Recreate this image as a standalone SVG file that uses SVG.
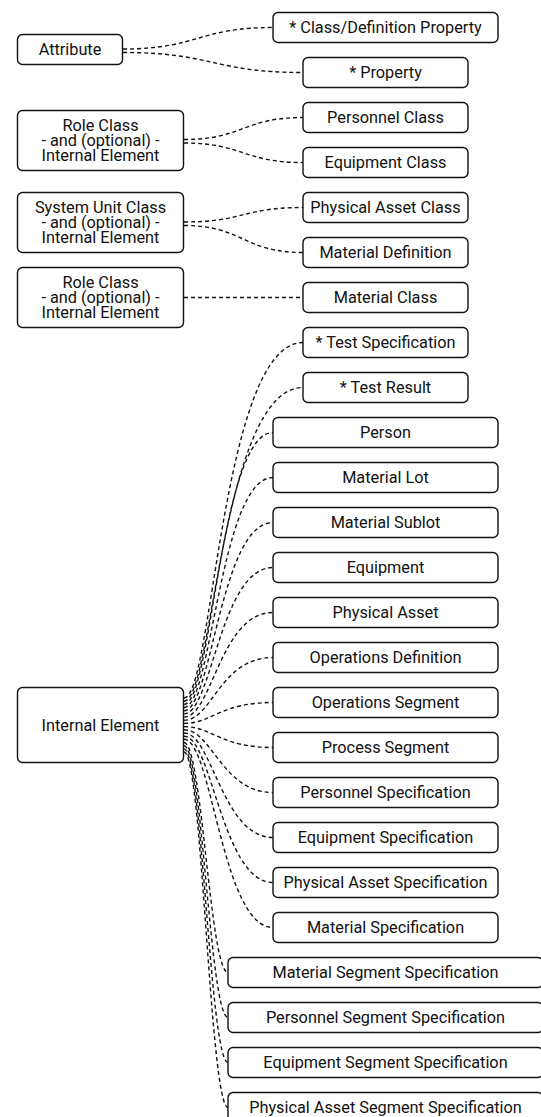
<svg xmlns="http://www.w3.org/2000/svg" width="541" height="1117" viewBox="0 0 541 1117">
<style>
.n rect{fill:#fff;stroke:#111;stroke-width:1.4}
.n text{font-family:Roboto,"Liberation Sans",sans-serif;font-size:16.3px;fill:#111;text-anchor:middle}
.e path{fill:none;stroke:#111;stroke-width:1.4;stroke-dasharray:4 3}
</style>
<rect width="541" height="1117" fill="#fff"/>
<g class="e" id="connectors">
<path d="M123,49 C198,49 198,27.5 273,27.5"/>
<path d="M123,52.5 C213,52.5 213,72.5 303,72.5"/>
<path d="M184,139.5 C243,139.5 243,117.5 303,117.5"/>
<path d="M184,143 C243,143 243,162.5 303,162.5"/>
<path d="M184,222 C243,222 243,207.5 303,207.5"/>
<path d="M184,225.5 C243,225.5 243,252.5 303,252.5"/>
<path d="M184,297.5 L303,297.5"/>
<path d="M184,698 C213,698 221,342.5 303,342.5"/>
<path d="M184,701.2 C213,701.2 221,387.5 303,387.5"/>
<path d="M184,704.4 C212,704.4 220,432.5 273,432.5"/>
<path d="M184,707.5 C212,707.5 220,477.5 273,477.5"/>
<path d="M184,710.7 C212,710.7 220,522.5 273,522.5"/>
<path d="M184,713.9 C212,713.9 220,567.5 273,567.5"/>
<path d="M184,717.1 C212,717.1 220,612.5 273,612.5"/>
<path d="M184,720.3 C212,720.3 220,657.5 273,657.5"/>
<path d="M184,723.4 C212,723.4 220,702.5 273,702.5"/>
<path d="M184,726.6 C212,726.6 220,747.5 273,747.5"/>
<path d="M184,729.8 C212,729.8 222,792.5 273,792.5"/>
<path d="M184,733 C212,733 222,837.5 273,837.5"/>
<path d="M184,736.2 C212,736.2 222,882.5 273,882.5"/>
<path d="M184,739.3 C212,739.3 222,927.5 273,927.5"/>
<path d="M184,742.5 C202,742.5 210,972.5 228,972.5"/>
<path d="M184,745.7 C202,745.7 210,1017.5 228,1017.5"/>
<path d="M184,748.9 C202,748.9 210,1062.5 228,1062.5"/>
<path d="M184,752 C202,752 210,1107.5 228,1107.5"/>
</g>
<g class="n" id="attribute"><rect x="17.5" y="34.5" width="105" height="30" rx="5"/><text x="70" y="55">Attribute</text></g>
<g class="n" id="roleclass1"><rect x="17.5" y="110.5" width="166" height="60" rx="5"/><text x="100.5" y="131">Role Class</text><text x="100.5" y="146">- and (optional) -</text><text x="100.5" y="161">Internal Element</text></g>
<g class="n" id="systemunitclass"><rect x="17.5" y="192.5" width="166" height="60" rx="5"/><text x="100.5" y="213">System Unit Class</text><text x="100.5" y="228">- and (optional) -</text><text x="100.5" y="243">Internal Element</text></g>
<g class="n" id="roleclass2"><rect x="17.5" y="267.5" width="166" height="60" rx="5"/><text x="100.5" y="288">Role Class</text><text x="100.5" y="303">- and (optional) -</text><text x="100.5" y="318">Internal Element</text></g>
<g class="n" id="internalelement"><rect x="17.5" y="687.5" width="166" height="75" rx="5"/><text x="100.5" y="730.5">Internal Element</text></g>
<g class="n" id="classdefprop"><rect x="273" y="12.5" width="225" height="30" rx="5"/><text x="385.5" y="33">* Class/Definition Property</text></g>
<g class="n" id="property"><rect x="303" y="57.5" width="165" height="30" rx="5"/><text x="385.5" y="78">* Property</text></g>
<g class="n" id="personnelclass"><rect x="303" y="102.5" width="165" height="30" rx="5"/><text x="385.5" y="123">Personnel Class</text></g>
<g class="n" id="equipmentclass"><rect x="303" y="147.5" width="165" height="30" rx="5"/><text x="385.5" y="168">Equipment Class</text></g>
<g class="n" id="physicalassetclass"><rect x="303" y="192.5" width="165" height="30" rx="5"/><text x="385.5" y="213">Physical Asset Class</text></g>
<g class="n" id="materialdefinition"><rect x="303" y="237.5" width="165" height="30" rx="5"/><text x="385.5" y="258">Material Definition</text></g>
<g class="n" id="materialclass"><rect x="303" y="282.5" width="165" height="30" rx="5"/><text x="385.5" y="303">Material Class</text></g>
<g class="n" id="testspec"><rect x="303" y="327.5" width="165" height="30" rx="5"/><text x="385.5" y="348">* Test Specification</text></g>
<g class="n" id="testresult"><rect x="303" y="372.5" width="165" height="30" rx="5"/><text x="385.5" y="393">* Test Result</text></g>
<g class="n" id="person"><rect x="273" y="417.5" width="225" height="30" rx="5"/><text x="385.5" y="438">Person</text></g>
<g class="n" id="materiallot"><rect x="273" y="462.5" width="225" height="30" rx="5"/><text x="385.5" y="483">Material Lot</text></g>
<g class="n" id="materialsublot"><rect x="273" y="507.5" width="225" height="30" rx="5"/><text x="385.5" y="528">Material Sublot</text></g>
<g class="n" id="equipment"><rect x="273" y="552.5" width="225" height="30" rx="5"/><text x="385.5" y="573">Equipment</text></g>
<g class="n" id="physicalasset"><rect x="273" y="597.5" width="225" height="30" rx="5"/><text x="385.5" y="618">Physical Asset</text></g>
<g class="n" id="opsdef"><rect x="273" y="642.5" width="225" height="30" rx="5"/><text x="385.5" y="663">Operations Definition</text></g>
<g class="n" id="opsseg"><rect x="273" y="687.5" width="225" height="30" rx="5"/><text x="385.5" y="708">Operations Segment</text></g>
<g class="n" id="processseg"><rect x="273" y="732.5" width="225" height="30" rx="5"/><text x="385.5" y="753">Process Segment</text></g>
<g class="n" id="personnelspec"><rect x="273" y="777.5" width="225" height="30" rx="5"/><text x="385.5" y="798">Personnel Specification</text></g>
<g class="n" id="equipmentspec"><rect x="273" y="822.5" width="225" height="30" rx="5"/><text x="385.5" y="843">Equipment Specification</text></g>
<g class="n" id="paspec"><rect x="273" y="867.5" width="225" height="30" rx="5"/><text x="385.5" y="888">Physical Asset Specification</text></g>
<g class="n" id="materialspec"><rect x="273" y="912.5" width="225" height="30" rx="5"/><text x="385.5" y="933">Material Specification</text></g>
<g class="n" id="matsegspec"><rect x="228" y="957.5" width="315" height="30" rx="5"/><text x="385.5" y="978">Material Segment Specification</text></g>
<g class="n" id="perssegspec"><rect x="228" y="1002.5" width="315" height="30" rx="5"/><text x="385.5" y="1023">Personnel Segment Specification</text></g>
<g class="n" id="eqsegspec"><rect x="228" y="1047.5" width="315" height="30" rx="5"/><text x="385.5" y="1068">Equipment Segment Specification</text></g>
<g class="n" id="pasegspec"><rect x="228" y="1092.5" width="315" height="30" rx="5"/><text x="385.5" y="1113">Physical Asset Segment Specification</text></g>
</svg>
